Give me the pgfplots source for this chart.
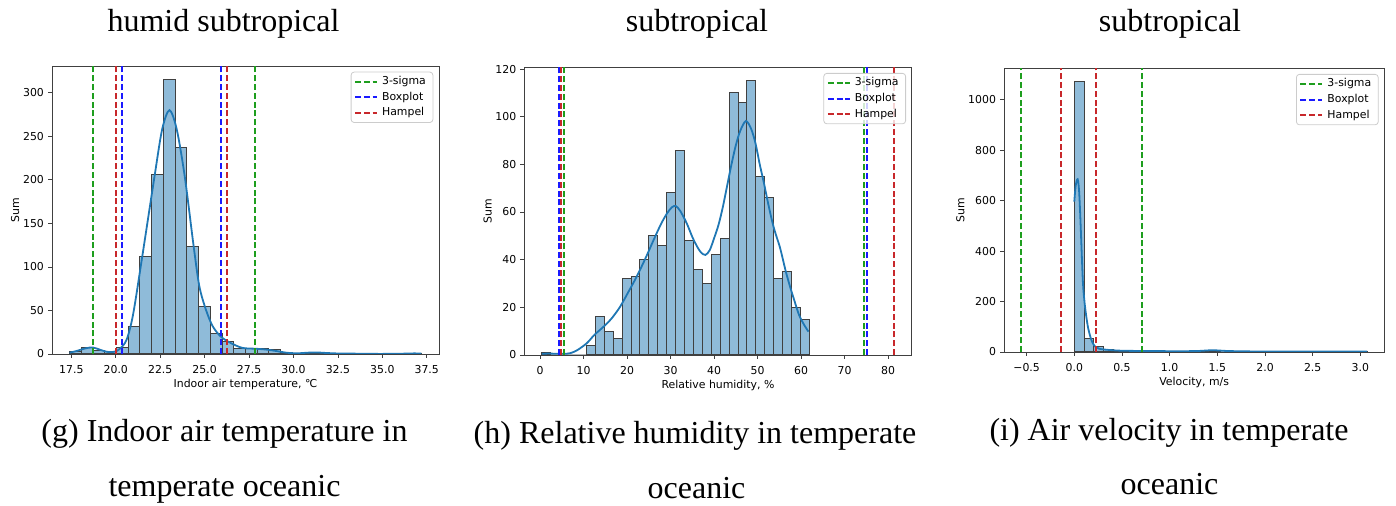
\documentclass[border=0pt]{standalone}
\usepackage{fontspec}
\setmainfont{DejaVu Sans}
\newfontfamily\timesfont{Liberation Serif}
\usepackage{pgfplots}
\pgfplotsset{compat=1.18}
\definecolor{histfill}{HTML}{8FBBD9}
\definecolor{kdeblue}{HTML}{1F77B4}
\definecolor{sgreen}{HTML}{1E9E1E}
\definecolor{sblue}{HTML}{1A1AFF}
\definecolor{sred}{HTML}{C8282B}
\newcommand{\tfont}{\fontsize{5.45}{6.5}\selectfont}
\newcommand{\capfont}{\timesfont\fontsize{16}{16}\selectfont}
\pgfplotsset{
  hist/.style={ybar interval, fill=histfill, draw=black!75, line width=0.5pt, forget plot},
  kde/.style={kdeblue, line width=0.9pt, smooth, tension=0.5, forget plot, no markers},
  vline/.style={line width=1pt, dash pattern=on 3pt off 1.4pt, no markers},
  myaxis/.style={
    scale only axis, anchor=south west,
    axis line style={black!75, line width=0.4pt},
    tick style={black!75, line width=0.4pt},
    tick align=outside, major tick length=2pt, tick pos=left,
    ymin=0, clip=true,
    ticklabel style={font=\tfont},
    label style={font=\tfont},
    yticklabel shift=-1.5pt,
    ylabel shift=-5pt, xlabel shift=-4pt,
    legend style={at={(1,1)}, anchor=north east, xshift=-2.85pt, yshift=-2.85pt,
      draw=black!20, line width=0.4pt, rounded corners=1.5pt, fill=white,
      fill opacity=0.8, text opacity=1, font=\tfont, inner xsep=1.5pt, inner ysep=1.5pt,
      row sep=1.35pt,
      nodes={inner ysep=0.5pt, text height=4.2pt, text depth=1.3pt}},
    legend cell align=left,
    legend image code/.code={\draw[##1] (0pt,0pt) -- (11pt,0pt);},
  }
}
\begin{document}
\begin{tikzpicture}
\path[use as bounding box] (0pt,0pt) rectangle (698pt,253pt);

% ---------------- (g) ----------------
\begin{axis}[myaxis, at={(26pt,76pt)}, width=193.5pt, height=144pt,
  xmin=16.41, xmax=38.19, ymax=330.75,
  xtick={17.5,20,22.5,25,27.5,30,32.5,35,37.5},
  xticklabels={17.5,20.0,22.5,25.0,27.5,30.0,32.5,35.0,37.5},
  ytick={0,50,100,150,200,250,300},
  yticklabels={0,50,100,150,200,250,300},
  xlabel={Indoor air temperature, ℃}, ylabel={Sum}]
\addplot[hist] coordinates {
(17.40,3) (18.06,8) (18.72,4) (19.38,3) (20.04,7) (20.70,32) (21.36,112) (22.02,206)
(22.68,315) (23.34,237) (24.00,124) (24.66,55) (25.32,24) (25.98,14) (26.64,6) (27.30,6)
(27.96,6) (28.62,5) (29.28,2) (29.94,0) (30.60,2) (31.26,2) (31.92,0) (32.58,1)
(33.24,0) (33.90,0) (34.56,0) (35.22,0) (35.88,0) (36.54,1) (37.20,0)};
\addplot[kde] coordinates {
(17.4,1.5) (17.8,3.5) (18.3,6.5) (18.7,7.5) (19.1,5) (19.5,2.5) (19.9,2.5) (20.2,5.5)
(20.6,16) (20.97,45) (21.49,112) (22.18,204) (22.61,258) (23.02,280) (23.43,258)
(23.88,204) (24.38,124) (24.70,78) (25.07,51) (25.45,32) (25.91,20) (26.47,12.6)
(27.13,7) (27.9,6) (28.5,5) (29.0,3.5) (29.6,1.5) (30.2,0.8) (30.8,1.5) (31.3,1.8)
(31.8,1.2) (32.5,0.6) (33.2,0.5) (34,0.2) (35,0.1) (36,0.3) (36.8,0.7) (37.2,0.5)};
\addplot[sgreen, vline] coordinates {(18.70,0) (18.70,400)};
\addlegendentry{3-sigma}
\addplot[sgreen, vline, forget plot] coordinates {(27.81,0) (27.81,400)};
\addplot[sblue, vline] coordinates {(20.33,0) (20.33,400)};
\addlegendentry{Boxplot}
\addplot[sblue, vline, forget plot] coordinates {(25.90,0) (25.90,400)};
\addplot[sred, vline] coordinates {(20.01,0) (20.01,400)};
\addlegendentry{Hampel}
\addplot[sred, vline, forget plot] coordinates {(26.24,0) (26.24,400)};
\end{axis}

% ---------------- (h) ----------------
\begin{axis}[myaxis, at={(262.15pt,75.5pt)}, width=193.7pt, height=143.85pt,
  xmin=-3.65, xmax=85.45, ymax=120.75,
  xtick={0,10,20,30,40,50,60,70,80},
  xticklabels={0,10,20,30,40,50,60,70,80},
  ytick={0,20,40,60,80,100,120},
  yticklabels={0,20,40,60,80,100,120},
  xlabel={Relative humidity, \%}, ylabel={Sum}]
\addplot[hist] coordinates {
(0.40,1) (2.45,0) (4.50,0) (6.55,0) (8.60,0) (10.65,4) (12.70,16) (14.75,10)
(16.80,7) (18.85,32) (20.90,33) (22.95,40) (25.00,50) (27.05,46) (29.10,68) (31.15,86)
(33.20,48) (35.25,36) (37.30,30) (39.35,42) (41.40,49) (43.45,110) (45.50,106) (47.55,115)
(49.60,75) (51.65,66) (53.70,32) (55.75,35) (57.80,20) (59.85,15) (61.90,0)};
\addplot[kde] coordinates {
(0.4,0.5) (2,0.6) (4,0.5) (6,0.5) (7,0.8) (8.5,2) (10.7,4.9) (12.5,8.5) (14.6,11.9)
(16.5,15.5) (18.4,20.3) (20.3,26.5) (22.2,32.9) (24.2,40.5) (26.1,48.3) (27.8,55)
(29.2,59.5) (30.3,62) (31.2,62.5) (32.2,60.5) (33.7,55.3) (35,49.5) (36.1,45.5)
(37.0,43) (38.0,42) (39,44) (40,49) (41,54.5) (42,62) (43,71) (44,80) (45,88) (46,94)
(47.3,98.2) (48.5,95) (49.5,89) (50.5,80) (51.4,72.7) (52.5,63) (53.5,55) (54.3,50)
(55.2,44.8) (56.5,35) (57.5,28.5) (58.3,23.8) (59.5,17) (60.6,13) (61.7,9.8)};
\addplot[sgreen, vline] coordinates {(5.4,0) (5.4,200)};
\addlegendentry{3-sigma}
\addplot[sgreen, vline, forget plot] coordinates {(74.4,0) (74.4,200)};
\addplot[sblue, vline] coordinates {(4.3,0) (4.3,200)};
\addlegendentry{Boxplot}
\addplot[sblue, vline, forget plot] coordinates {(75.1,0) (75.1,200)};
\addplot[sred, vline] coordinates {(4.75,0) (4.75,200)};
\addlegendentry{Hampel}
\addplot[sred, vline, forget plot] coordinates {(81.4,0) (81.4,200)};
\end{axis}

% ---------------- (i) ----------------
\begin{axis}[myaxis, at={(502pt,77pt)}, width=190.15pt, height=141.85pt,
  xmin=-0.737, xmax=3.251, ymax=1124.6,
  xtick={-0.5,0,0.5,1,1.5,2,2.5,3},
  xticklabels={−0.5,0.0,0.5,1.0,1.5,2.0,2.5,3.0},
  ytick={0,200,400,600,800,1000},
  yticklabels={0,200,400,600,800,1000},
  xlabel={Velocity, m/s}, ylabel={Sum}]
\addplot[hist] coordinates {
(0.0000,1071) (0.1023,54) (0.2047,20) (0.3070,8) (0.4093,4) (0.5117,3) (0.6140,2)
(0.7163,2) (0.8187,1) (0.9210,2) (1.0233,1) (1.1257,1) (1.2280,0) (1.3303,2)
(1.4327,5) (1.5350,0) (1.6373,0) (1.7397,0) (1.8420,0) (1.9443,1) (2.0467,0)
(2.1490,0) (2.2513,0) (2.3537,0) (2.4560,0) (2.5583,0) (2.6607,0) (2.7630,0)
(2.8653,0) (2.9677,1) (3.0700,0)};
\addplot[kde] coordinates {
(0.0,596) (0.015,660) (0.035,685) (0.05,640) (0.063,537) (0.077,400) (0.091,272)
(0.108,195) (0.126,140) (0.145,95) (0.168,61) (0.19,38) (0.22,21) (0.26,13) (0.31,10)
(0.4,7) (0.5,5) (0.7,4) (0.9,3.5) (1.1,3) (1.3,4) (1.45,7) (1.6,4) (1.8,2.5) (2.0,2)
(2.4,1.5) (2.8,1.5) (3.07,1.5)};
\addplot[sgreen, vline] coordinates {(-0.556,0) (-0.556,2000)};
\addlegendentry{3-sigma}
\addplot[sgreen, vline, forget plot] coordinates {(0.713,0) (0.713,2000)};
\addplot[sblue, vline] coordinates {(-0.136,0) (-0.136,2000)};
\addlegendentry{Boxplot}
\addplot[sblue, vline, forget plot] coordinates {(0.224,0) (0.224,2000)};
\addplot[sred, vline] coordinates {(-0.136,0) (-0.136,2000)};
\addlegendentry{Hampel}
\addplot[sred, vline, forget plot] coordinates {(0.224,0) (0.224,2000)};
\end{axis}

% titles and captions
\node[font=\capfont, anchor=base] at (111.75pt,237pt) {humid subtropical};
\node[font=\capfont, anchor=base] at (348.5pt,237pt) {subtropical};
\node[font=\capfont, anchor=base] at (585pt,237pt) {subtropical};
\node[font=\capfont, anchor=base] at (112.25pt,32pt) {(g) Indoor air temperature in};
\node[font=\capfont, anchor=base] at (112.25pt,4.5pt) {temperate oceanic};
\node[font=\capfont, anchor=base] at (347.5pt,31pt) {(h) Relative humidity in temperate};
\node[font=\capfont, anchor=base] at (348.25pt,3.5pt) {oceanic};
\node[font=\capfont, anchor=base] at (584.5pt,32.5pt) {(i) Air velocity in temperate};
\node[font=\capfont, anchor=base] at (584.75pt,5.5pt) {oceanic};
\end{tikzpicture}
\end{document}
